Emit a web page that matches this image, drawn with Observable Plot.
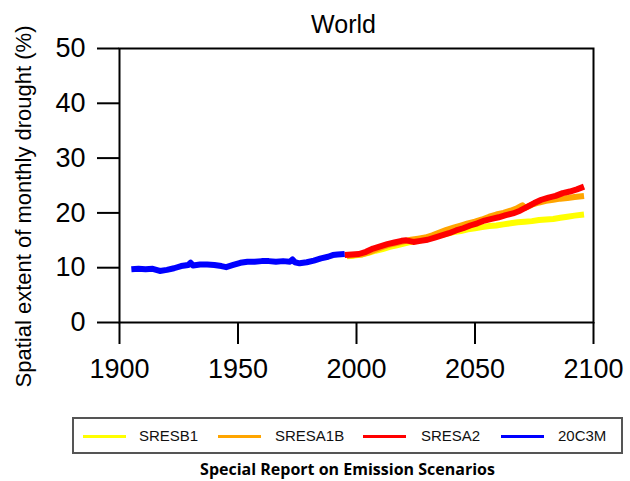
<!DOCTYPE html>
<html>
<head>
<meta charset="utf-8">
<script src="https://cdn.jsdelivr.net/npm/d3@7"></script>
<script src="https://cdn.jsdelivr.net/npm/@observablehq/plot@0.6"></script>
<style>
  html, body { margin: 0; padding: 0; background: #fff; }
  #page { position: relative; width: 630px; height: 481px; overflow: hidden; font-family: "Liberation Sans", Arial, sans-serif; }
  #chart { position: absolute; left: 0; top: 0; }
  #legend { position: absolute; left: 72px; top: 417px; width: 547px; height: 33px; border: 2px solid #555; }
  #legend .sw { position: absolute; top: 16px; width: 43px; height: 3px; }
  #legend .lb { position: absolute; top: 8px; font-size: 15px; line-height: 18px; color: #111; }
  #caption { position: absolute; left: 72px; width: 551px; top: 458px; text-align: center; font-family: "Open Sans", sans-serif; font-weight: bold; font-size: 16px; line-height: 22px; color: #000; }
</style>
</head>
<body>
<div id="page">
  <div id="chart"></div>
  <div id="legend"></div>
  <div id="caption">Special Report on Emission Scenarios</div>
</div>
<script>
// Spatial extent of monthly drought (%) for the world, historical run and SRES scenarios
const histYears = [1905, 1908, 1911, 1914, 1917, 1920, 1923, 1926, 1929, 1930, 1931, 1934, 1937, 1940, 1943, 1945, 1948, 1951, 1954, 1957, 1960, 1963, 1966, 1969, 1972, 1973, 1974, 1976, 1979, 1982, 1985, 1988, 1990, 1992, 1995];
const hist20C3M = [9.7, 9.8, 9.7, 9.8, 9.4, 9.6, 9.9, 10.3, 10.5, 10.9, 10.4, 10.6, 10.6, 10.5, 10.3, 10.1, 10.5, 10.9, 11.1, 11.1, 11.2, 11.2, 11.1, 11.2, 11.1, 11.5, 11.0, 10.8, 11.0, 11.3, 11.7, 12.0, 12.3, 12.4, 12.5];

const a2Years = [1995, 1998, 2001, 2004, 2007, 2010, 2013, 2016, 2019, 2021, 2024, 2027, 2030, 2033, 2036, 2039, 2042, 2045, 2048, 2051, 2054, 2057, 2060, 2063, 2066, 2069, 2072, 2075, 2078, 2081, 2084, 2087, 2090, 2093, 2096];
const sresA2 = [12.3, 12.4, 12.5, 12.9, 13.5, 13.9, 14.3, 14.6, 14.9, 15.0, 14.7, 14.9, 15.1, 15.5, 15.9, 16.3, 16.8, 17.2, 17.7, 18.1, 18.6, 18.9, 19.2, 19.6, 19.9, 20.4, 21.1, 21.8, 22.4, 22.8, 23.1, 23.6, 23.9, 24.3, 24.8];

const a1bYears = [1996, 1999, 2002, 2005, 2008, 2011, 2014, 2017, 2020, 2023, 2026, 2029, 2032, 2035, 2038, 2041, 2044, 2047, 2050, 2053, 2056, 2059, 2062, 2065, 2068, 2070, 2071, 2074, 2077, 2080, 2083, 2086, 2089, 2092, 2096];
const sresA1B = [12.2, 12.3, 12.4, 12.8, 13.3, 13.8, 14.2, 14.5, 14.8, 15.1, 15.3, 15.5, 15.9, 16.4, 16.9, 17.3, 17.7, 18.1, 18.4, 18.8, 19.3, 19.7, 20.0, 20.4, 20.9, 21.4, 20.9, 21.5, 21.9, 22.2, 22.4, 22.6, 22.7, 22.9, 23.1];

const b1Years = [1996, 1999, 2002, 2005, 2008, 2011, 2014, 2017, 2020, 2023, 2026, 2029, 2032, 2035, 2038, 2041, 2044, 2047, 2050, 2053, 2056, 2059, 2062, 2065, 2068, 2071, 2074, 2077, 2080, 2083, 2086, 2089, 2092, 2096];
const sresB1 = [12.1, 12.2, 12.4, 12.7, 13.1, 13.4, 13.8, 14.1, 14.4, 14.7, 14.9, 15.2, 15.5, 15.9, 16.2, 16.5, 16.7, 17.0, 17.2, 17.4, 17.6, 17.7, 17.9, 18.1, 18.3, 18.4, 18.5, 18.7, 18.8, 18.9, 19.1, 19.3, 19.5, 19.7];

const xTicks = [1900, 1950, 2000, 2050, 2100];
const yTicks = [0, 10, 20, 30, 40, 50];

const seriesNames = ["SRESB1", "SRESA1B", "SRESA2", "20C3M"];
const seriesColors = ["#ffff00", "#ffa500", "#ff0000", "#0000ff"];

const toRows = (years, values, name) => years.map((year, i) => ({year, value: values[i], series: name}));
const series = [
  toRows(b1Years, sresB1, "SRESB1"),
  toRows(a1bYears, sresA1B, "SRESA1B"),
  toRows(a2Years, sresA2, "SRESA2"),
  toRows(histYears, hist20C3M, "20C3M")
];

const axisFont = "Liberation Sans, Arial, sans-serif";

const chart = Plot.plot({
  width: 630,
  height: 400,
  marginLeft: 119,
  marginRight: 37,
  marginTop: 48,
  marginBottom: 78,
  style: {fontFamily: axisFont, color: "#000", background: "#fff"},
  x: {domain: [1900, 2100]},
  y: {domain: [0, 50]},
  color: {domain: seriesNames, range: seriesColors},
  marks: [
    ...series.map(rows => Plot.line(rows, {x: "year", y: "value", stroke: "series", strokeWidth: 6, strokeLinejoin: "round", strokeLinecap: "butt"})),
    Plot.frame({stroke: "#000", strokeWidth: 2}),
    Plot.axisX({ticks: xTicks, tickSize: 22, tickPadding: 14, tickFormat: d => String(d), fontSize: 27, strokeWidth: 2, label: null}),
    Plot.axisY({ticks: yTicks, tickSize: 22, tickPadding: 12, fontSize: 27, strokeWidth: 2, label: null}),
    Plot.text(["World"], {frameAnchor: "top", lineAnchor: "bottom", dy: -16, dx: -13, fontSize: 25}),
    Plot.text(["Spatial extent of monthly drought (%)"], {frameAnchor: "left", textAnchor: "middle", rotate: -90, dx: -96, dy: 21, fontSize: 22})
  ]
});
document.getElementById("chart").appendChild(chart);

// Legend entries laid out in a single boxed row
const legend = document.getElementById("legend");
const swatchLeft = [9, 144, 289, 427];
const labelLeft = [65, 201, 347, 484];
seriesNames.forEach((name, i) => {
  const sw = document.createElement("div");
  sw.className = "sw";
  sw.style.left = swatchLeft[i] + "px";
  sw.style.background = seriesColors[i];
  legend.appendChild(sw);
  const lb = document.createElement("div");
  lb.className = "lb";
  lb.style.left = labelLeft[i] + "px";
  lb.textContent = name;
  legend.appendChild(lb);
});
</script>
</body>
</html>
